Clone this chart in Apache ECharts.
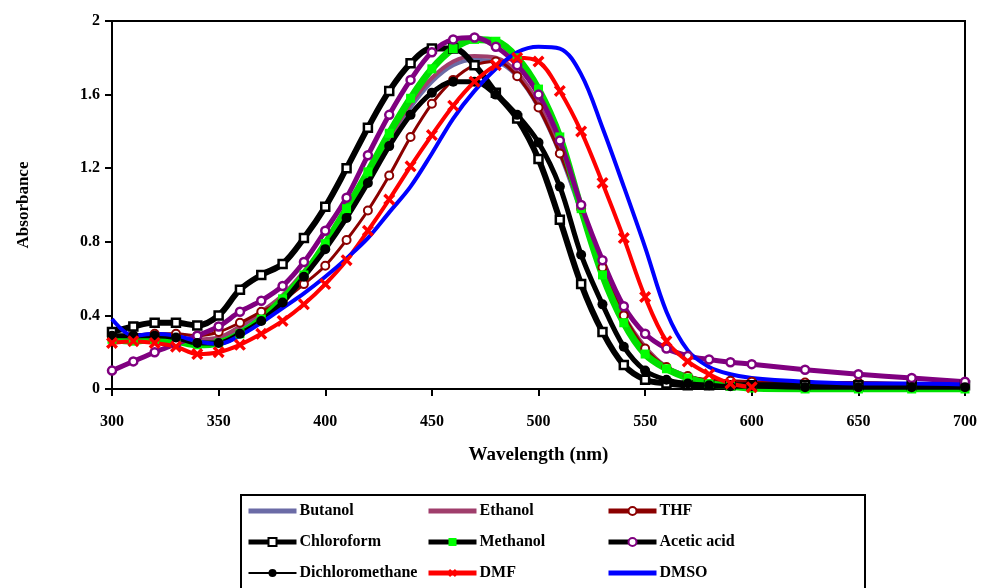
<!DOCTYPE html>
<html>
<head>
<meta charset="utf-8">
<script src="https://cdn.jsdelivr.net/npm/echarts@6/dist/echarts.min.js"></script>
<style>
  html, body { margin: 0; padding: 0; background: #fff; }
  #chart { width: 983px; height: 588px; }
</style>
</head>
<body>
<div id="chart"></div>
<script>
// wavelength grid (nm)
const wavelengths = [300, 310, 320, 330, 340, 350, 360, 370, 380, 390, 400, 410, 420, 430, 440, 450, 460, 470, 480, 490,
    500, 510, 520, 530, 540, 550, 560, 570, 580, 590, 600, 625, 650, 675, 700];

const butanol = [0.27, 0.27, 0.27, 0.27, 0.26, 0.27, 0.33, 0.41, 0.50, 0.63, 0.78, 0.95, 1.14, 1.34, 1.53, 1.67, 1.76, 1.79, 1.78, 1.70,
    1.53, 1.28, 0.96, 0.64, 0.39, 0.22, 0.12, 0.07, 0.04, 0.03, 0.03, 0.025, 0.02, 0.02, 0.02];
const ethanol = [0.28, 0.28, 0.28, 0.28, 0.27, 0.28, 0.34, 0.42, 0.51, 0.64, 0.79, 0.96, 1.16, 1.36, 1.55, 1.69, 1.78, 1.81, 1.80, 1.72,
    1.55, 1.30, 0.98, 0.66, 0.40, 0.23, 0.12, 0.07, 0.04, 0.03, 0.03, 0.025, 0.02, 0.02, 0.02];
const thf = [0.28, 0.29, 0.30, 0.30, 0.29, 0.31, 0.36, 0.42, 0.48, 0.57, 0.67, 0.81, 0.97, 1.16, 1.37, 1.55, 1.68, 1.76, 1.78, 1.70,
    1.53, 1.28, 0.98, 0.66, 0.40, 0.22, 0.12, 0.07, 0.05, 0.045, 0.04, 0.035, 0.035, 0.03, 0.03];
const chloroform = [0.31, 0.34, 0.36, 0.36, 0.345, 0.40, 0.54, 0.62, 0.68, 0.82, 0.99, 1.20, 1.42, 1.62, 1.77, 1.85, 1.85, 1.76, 1.61, 1.47,
    1.25, 0.92, 0.57, 0.31, 0.13, 0.05, 0.03, 0.02, 0.02, 0.02, 0.02, 0.02, 0.02, 0.02, 0.02];
const methanol = [0.27, 0.26, 0.27, 0.26, 0.24, 0.25, 0.30, 0.38, 0.49, 0.62, 0.79, 0.98, 1.18, 1.39, 1.58, 1.74, 1.85, 1.90, 1.89, 1.80,
    1.63, 1.37, 0.98, 0.62, 0.36, 0.19, 0.11, 0.06, 0.03, 0.015, 0.005, 0, 0, 0, 0];
const aceticAcid = [0.10, 0.15, 0.20, 0.245, 0.29, 0.34, 0.42, 0.48, 0.56, 0.69, 0.86, 1.04, 1.27, 1.49, 1.68, 1.83, 1.90, 1.91, 1.86, 1.76,
    1.60, 1.35, 1.00, 0.70, 0.45, 0.30, 0.22, 0.18, 0.16, 0.145, 0.135, 0.105, 0.08, 0.06, 0.04];
const dichloromethane = [0.29, 0.29, 0.29, 0.28, 0.25, 0.25, 0.30, 0.37, 0.47, 0.61, 0.76, 0.93, 1.12, 1.32, 1.49, 1.61, 1.67, 1.67, 1.60, 1.49,
    1.34, 1.10, 0.73, 0.46, 0.23, 0.10, 0.05, 0.03, 0.02, 0.015, 0.015, 0.01, 0.01, 0.01, 0.01];
const dmf = [0.25, 0.26, 0.25, 0.23, 0.19, 0.20, 0.24, 0.30, 0.37, 0.46, 0.57, 0.70, 0.86, 1.03, 1.21, 1.38, 1.54, 1.67, 1.76, 1.80,
    1.78, 1.62, 1.40, 1.12, 0.82, 0.50, 0.26, 0.15, 0.08, 0.03, 0.01, null, null, null, null];
const dmso = [0.38, 0.29, 0.30, 0.29, 0.26, 0.245, 0.29, 0.36, 0.44, 0.52, 0.61, 0.71, 0.82, 0.96, 1.10, 1.28, 1.47, 1.62, 1.74, 1.83,
    1.86, 1.85, 1.71, 1.42, 1.10, 0.77, 0.42, 0.21, 0.12, 0.08, 0.06, 0.04, 0.03, 0.03, 0.025];

const yTicks = [0, 0.4, 0.8, 1.2, 1.6, 2];

const font = '"Liberation Serif", "Times New Roman", serif';
const xMark = 'path://M0,2L2,0L5,3L8,0L10,2L7,5L10,8L8,10L5,7L2,10L0,8L3,5Z';

function pairs(vals) {
    return wavelengths.map((w, i) => [w, vals[i]]);
}

function mk(name, vals, line, sym) {
    const s = {
        name: name,
        type: 'line',
        data: pairs(vals),
        smooth: 0.35,
        connectNulls: false,
        lineStyle: line,
        itemStyle: { color: line.color },
        symbol: 'none',
        showSymbol: false,
        emphasis: { disabled: true }
    };
    if (sym) {
        s.symbol = sym.symbol;
        s.symbolSize = sym.size;
        s.showSymbol = true;
        s.showAllSymbol = true;
        s.itemStyle = sym.style;
    }
    return s;
}

const series = [
    mk('Butanol', butanol, { color: '#6B6BA6', width: 4 }),
    mk('Ethanol', ethanol, { color: '#A03E6C', width: 4 }),
    mk('THF', thf, { color: '#8B0000', width: 3 },
        { symbol: 'circle', size: 8, style: { color: '#fff', borderColor: '#8B0000', borderWidth: 2 } }),
    mk('Chloroform', chloroform, { color: '#000', width: 6 },
        { symbol: 'rect', size: 8, style: { color: '#fff', borderColor: '#000', borderWidth: 2.5 } }),
    mk('Methanol', methanol, { color: '#00E000', width: 7 },
        { symbol: 'rect', size: 9, style: { color: '#00FF00', borderColor: '#00FF00', borderWidth: 0 } }),
    mk('Acetic acid', aceticAcid, { color: '#800080', width: 5 },
        { symbol: 'circle', size: 8, style: { color: '#fff', borderColor: '#800080', borderWidth: 2.5 } }),
    mk('Dichloromethane', dichloromethane, { color: '#000', width: 5 },
        { symbol: 'circle', size: 10, style: { color: '#000' } }),
    mk('DMF', dmf, { color: '#FF0000', width: 4 },
        { symbol: xMark, size: 12, style: { color: '#FF0000' } }),
    mk('DMSO', dmso, { color: '#0000FF', width: 4 })
];

// legend entries, styled like the original key
const noMark = { opacity: 0 };
const legendCols = [
    [
        { name: 'Butanol', lineStyle: { color: '#6B6BA6', width: 5 }, itemStyle: noMark },
        { name: 'Chloroform', lineStyle: { color: '#000', width: 5 } },
        { name: 'Dichloromethane', lineStyle: { color: '#000', width: 2 } }
    ],
    [
        { name: 'Ethanol', lineStyle: { color: '#A03E6C', width: 5 }, itemStyle: noMark },
        { name: 'Methanol', lineStyle: { color: '#000', width: 5 } },
        { name: 'DMF', lineStyle: { color: '#FF0000', width: 5 } }
    ],
    [
        { name: 'THF', lineStyle: { color: '#8B0000', width: 5 } },
        { name: 'Acetic acid', lineStyle: { color: '#000', width: 5 } },
        { name: 'DMSO', lineStyle: { color: '#0000FF', width: 5 }, itemStyle: noMark }
    ]
];

function legendCol(left, names) {
    return {
        orient: 'vertical',
        left: left,
        top: 503,
        padding: 0,
        itemWidth: 48,
        itemHeight: 10,
        itemGap: 15,
        selectedMode: false,
        textStyle: { fontFamily: font, fontWeight: 'bold', fontSize: 16, color: '#000', padding: [0, 0, 0, -2] },
        data: names
    };
}

const chart = echarts.init(document.getElementById('chart'));
chart.setOption({
    animation: false,
    backgroundColor: '#fff',
    grid: { left: 112, right: 18, top: 21, bottom: 199, show: true, borderColor: '#000', borderWidth: 2 },
    legend: [
        legendCol(246, legendCols[0]),
        legendCol(426, legendCols[1]),
        legendCol(606, legendCols[2])
    ],
    graphic: [{
        type: 'rect',
        shape: { x: 241, y: 495, width: 624, height: 120 },
        style: { fill: 'none', stroke: '#000', lineWidth: 2 },
        silent: true
    }],
    xAxis: {
        type: 'value',
        min: 300,
        max: 700,
        interval: 50,
        name: 'Wavelength (nm)',
        nameLocation: 'middle',
        nameGap: 57,
        nameTextStyle: { fontFamily: font, fontWeight: 'bold', fontSize: 19, color: '#000' },
        axisLine: { lineStyle: { color: '#000', width: 2 } },
        axisTick: { inside: false, length: 7, lineStyle: { color: '#000', width: 2 } },
        axisLabel: { margin: 25, fontFamily: font, fontWeight: 'bold', fontSize: 16, color: '#000' },
        splitLine: { show: false }
    },
    yAxis: {
        type: 'value',
        min: 0,
        max: 2,
        interval: 0.4,
        name: 'Absorbance',
        nameLocation: 'middle',
        nameGap: 80,
        nameTextStyle: { fontFamily: font, fontWeight: 'bold', fontSize: 17, color: '#000' },
        axisLine: { lineStyle: { color: '#000', width: 2 } },
        axisTick: { inside: false, length: 7, lineStyle: { color: '#000', width: 2 } },
        axisLabel: {
            margin: 12, fontFamily: font, fontWeight: 'bold', fontSize: 16, color: '#000',
            formatter: v => (yTicks.indexOf(v) >= 0 ? String(v) : '')
        },
        splitLine: { show: false }
    },
    series: series
});
</script>
</body>
</html>
